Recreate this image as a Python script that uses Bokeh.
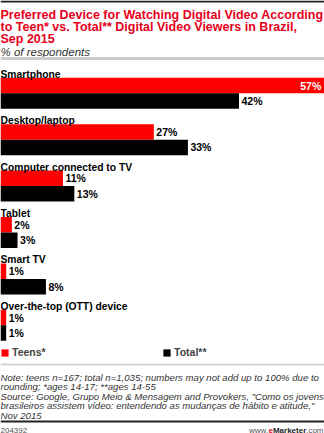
from bokeh.plotting import figure
from bokeh.models import ColumnDataSource, Range1d, Label, Span, Legend, LegendItem
from bokeh.core.properties import value
from bokeh.embed import file_html
from bokeh.resources import INLINE

categories = ["Smartphone", "Desktop/laptop", "Computer connected to TV", "Tablet", "Smart TV", "Over-the-top (OTT) device"]
teens = [57, 27, 11, 2, 1, 1]
total = [42, 33, 13, 3, 8, 1]
series_names = ["Teens*", "Total**"]

title_lines = ["Preferred Device for Watching Digital Video According",
               "to Teen* vs. Total** Digital Video Viewers in Brazil,",
               "Sep 2015"]
subtitle = "% of respondents"
note_lines = ["Note: teens n=167; total n=1,035; numbers may not add up to 100% due to",
              "rounding; *ages 14-17; **ages 14-55",
              "Source: Google, Grupo Meio & Mensagem and Provokers, \"Como os jovens",
              "brasileiros assistem vídeo: entendendo as mudanças de hábito e atitude,\"",
              "Nov 2015"]
footer_left = "204392"

W, H = 324, 433
FONT = "Liberation Sans"
RED = "#ff0000"
BLACK = "#000000"
LBL = "10.5px"

p = figure(width=W, height=H, output_backend="svg", toolbar_location=None,
           x_range=Range1d(0, 57.05), y_range=Range1d(H, 0), min_border=0)
p.axis.visible = False
p.grid.visible = False
p.outline_line_color = None
p.background_fill_color = "white"
p.border_fill_color = "white"

# layout in pixel rows (y from top)
top0, pitch, bh = 77.3, 46.4, 15.5
n = len(categories)
red_c = [top0 + pitch * i + bh / 2 for i in range(n)]
blk_c = [top0 + pitch * i + bh * 1.5 for i in range(n)]
lab_y = [top0 + pitch * i - 3.5 for i in range(n)]

src_r = ColumnDataSource(dict(y=red_c, v=teens))
src_b = ColumnDataSource(dict(y=blk_c, v=total))
src_c = ColumnDataSource(dict(y=lab_y, x=[0] * n, t=categories))

r1 = p.hbar(y="y", left=0, right="v", height=bh, source=src_r, fill_color=RED, line_color=None)
r2 = p.hbar(y="y", left=0, right="v", height=bh, source=src_b, fill_color=BLACK, line_color=None)

p.text(x="x", y="y", text="t", source=src_c, text_font=value(FONT), text_font_style="bold",
       text_font_size="10.3px", text_baseline="alphabetic", text_color="#000")

# value labels
mx = max(teens + total)
def split(vals, ys):
    out_in = dict(x=[], y=[], t=[])
    out_out = dict(x=[], y=[], t=[])
    for v, y in zip(vals, ys):
        d = out_in if v == mx else out_out
        d["x"].append(v); d["y"].append(y); d["t"].append(f"{v}%")
    return out_in, out_out

for vals, ys in ((teens, red_c), (total, blk_c)):
    i_d, o_d = split(vals, ys)
    if o_d["x"]:
        p.text(x="x", y="y", text="t", source=ColumnDataSource(o_d), x_offset=2.5,
               text_font=value(FONT), text_font_style="bold", text_font_size=LBL,
               text_baseline="middle", text_color="#000")
    if i_d["x"]:
        p.text(x="x", y="y", text="t", source=ColumnDataSource(i_d), x_offset=-3,
               text_font=value(FONT), text_font_style="bold", text_font_size=LBL,
               text_baseline="middle", text_align="right", text_color="#fff")

# title and subtitle
for i, line in enumerate(title_lines):
    p.add_layout(Label(x=0, y=14.5 + 12 * i, x_units="screen", y_units="data", text=line,
                       text_font=FONT, text_font_style="bold", text_font_size="12.5px",
                       text_color="#e8001c", text_baseline="alphabetic"))
p.add_layout(Label(x=0, y=51.5, x_units="screen", y_units="data", text=subtitle,
                   text_font=FONT, text_font_style="italic", text_font_size="11.5px",
                   text_color="#333333", text_baseline="alphabetic"))

# notes
for i, line in enumerate(note_lines):
    p.add_layout(Label(x=0, y=377 + 9.4 * i, x_units="screen", y_units="data", text=line,
                       text_font=FONT, text_font_style="italic", text_font_size="9.6px",
                       text_color="#333333", text_baseline="alphabetic"))
p.add_layout(Label(x=0, y=429.5, x_units="screen", y_units="data", text=footer_left,
                   text_font=FONT, text_font_size="8px", text_color="#555555",
                   text_baseline="alphabetic"))
# footer brand: www. e Marketer .com
for txt, xx, col, sty in (("www.", 248.5, "#555555", "normal"),
                          ("e", 268.0, "#e8001c", "bold"),
                          ("Marketer", 272.4, "#222222", "bold"),
                          (".com", 305.7, "#555555", "normal")):
    p.add_layout(Label(x=xx, y=429.5, x_units="screen", y_units="data", text=txt,
                       text_font=FONT, text_font_size="8px", text_color=col,
                       text_font_style=sty, text_baseline="alphabetic"))

# rules
p.add_layout(Span(location=1, dimension="width", line_color="#222222", line_width=2))
p.add_layout(Span(location=58, dimension="width", line_color="#cccccc", line_width=3))
p.add_layout(Span(location=364, dimension="width", line_color="#cccccc", line_width=1.5))
p.add_layout(Span(location=421, dimension="width", line_color="#222222", line_width=2))

legend = Legend(items=[LegendItem(label=series_names[0], renderers=[r1]),
                       LegendItem(label=series_names[1], renderers=[r2])],
                orientation="horizontal", location=(0, 75), padding=0, margin=0,
                spacing=0, glyph_width=9, glyph_height=9, label_height=9, label_width=150,
                label_standoff=3, border_line_color=None, background_fill_alpha=0,
                label_text_font=FONT, label_text_font_style="bold", label_text_font_size=LBL,
                label_text_baseline="middle")
p.add_layout(legend, "center")

open("out.html", "w").write(file_html(p, INLINE))
